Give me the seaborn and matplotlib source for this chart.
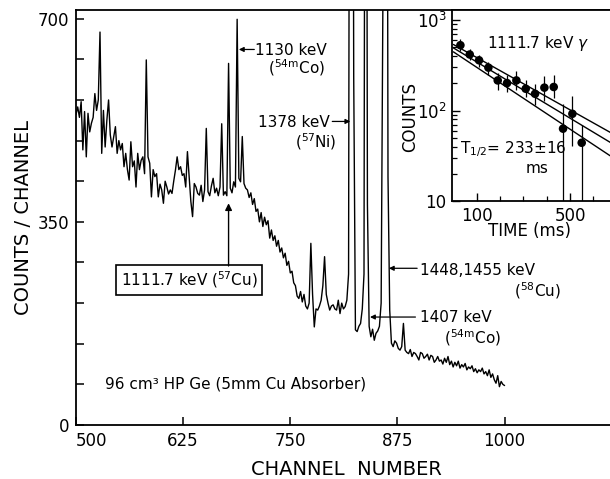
import numpy as np
import pandas as pd
import matplotlib
matplotlib.use("Agg")
import matplotlib.pyplot as plt
import seaborn as sns
from matplotlib.ticker import FixedLocator, NullFormatter

# ---------------- data ----------------
channels = list(range(500, 1002, 2))
counts = [
    535, 548, 530, 557, 474, 540, 462, 537, 505, 520,   # 500-518
    530, 571, 542, 560, 677, 468, 542, 479, 525, 560,   # 520-538
    500, 479, 497, 514, 468, 490, 474, 485, 445, 468,   # 540-558
    440, 422, 488, 445, 455, 410, 468, 440, 456, 462,   # 560-578
    433, 629, 462, 451, 393, 440, 428, 433, 393, 415,   # 580-598
    405, 382, 420, 410, 398, 405, 399, 420, 439, 462,   # 600-618
    440, 445, 430, 433, 410, 471, 428, 385, 359, 416,   # 620-638
    410, 399, 396, 413, 385, 405, 511, 402, 395, 412,   # 640-658
    425, 400, 408, 395, 410, 519, 396, 402, 395, 623,   # 660-678
    408, 400, 419, 410, 699, 425, 419, 497, 416, 408,   # 680-698
    405, 392, 400, 380, 390, 368, 372, 350, 366, 342,   # 700-718
    358, 345, 352, 322, 336, 318, 326, 308, 318, 298,   # 720-738
    305, 288, 296, 275, 282, 262, 265, 245, 240, 222,   # 740-758
    218, 230, 212, 225, 205, 200, 210, 313, 225, 169,   # 760-778
    200, 198, 205, 215, 240, 290, 225, 210, 198, 205,   # 780-798
    207, 200, 198, 215, 192, 210, 200, 204, 215, 260,   # 800-818
    2000, 2000, 600, 164, 161, 170, 175, 200, 260, 2000,  # 820-838
    380, 170, 152, 165, 146, 158, 162, 170, 210, 700,   # 840-858
    2000, 2000, 428, 198, 141, 135, 145, 141, 132, 129,  # 860-878
    135, 175, 129, 125, 123, 130, 118, 125, 123, 118,   # 880-898
    112, 125, 123, 115, 118, 122, 112, 120, 118, 108,   # 900-918
    112, 118, 110, 112, 105, 115, 108, 118, 104, 110,   # 920-938
    100, 108, 102, 110, 98, 104, 100, 106, 95, 100,     # 940-958
    97, 102, 92, 97, 90, 95, 92, 98, 88, 92,            # 960-978
    85, 95, 82, 88, 78, 72, 85, 66, 75, 70,             # 980-998
    68,                                                 # 1000
]

main_xticks = [500, 625, 750, 875, 1000]
main_yticks = [0, 350, 700]
main_yminor = [70, 140, 210, 280, 420, 490, 560, 630]

# inset: decay of the 1111.7 keV line
times = [30, 70, 110, 150, 190, 230, 270, 310, 350, 390, 430, 470, 510, 550]
decay_counts = [527, 416, 359, 298, 215, 201, 215, 174, 153, 179, 182, 63, 92, 44]
err_low = [74, 57, 56, 53, 48, 41, 48, 33, 39, 50, 46, 58, 51, 40]
err_high = [85, 60, 50, 46, 42, 44, 60, 41, 45, 61, 63, 56, 51, 26]
fit_times = [0, 672]
fit_upper = [537, 57.4]
fit_mid = [492, 44.5]
fit_lower = [445, 31.6]
inset_xticks = [100, 500]
inset_xminor = [200, 300, 400, 600]
inset_yticks = [10, 100, 1000]
inset_ylabels = ["10", "$10^2$", "$10^3$"]

# ---------------- style ----------------
sns.set_theme(style="ticks", rc={
    "axes.edgecolor": "black", "axes.labelcolor": "black",
    "xtick.color": "black", "ytick.color": "black", "text.color": "black",
})
plt.rcParams["font.family"] = ["DejaVu Sans"]
plt.rcParams["mathtext.fontset"] = "dejavusans"

fig = plt.figure(figsize=(6.10, 4.79), dpi=100)
W, H = 610.0, 479.0

# ---------------- main spectrum ----------------
ax = fig.add_axes([76 / W, 1 - 425 / H, 540 / W, 415 / H])
df = pd.DataFrame({"channel": channels, "counts": counts})
sns.lineplot(data=df, x="channel", y="counts", ax=ax, color="black",
             lw=1.0, estimator=None, sort=False)
ax.set_xlim(500, 1130)
ax.set_ylim(0, 715)
ax.set_xticks(main_xticks)
ax.set_xticklabels([str(v) for v in main_xticks])
ax.set_yticks(main_yticks)
ax.set_yticklabels([str(v) for v in main_yticks])
ax.yaxis.set_minor_locator(FixedLocator(main_yminor))
ax.yaxis.set_minor_formatter(NullFormatter())
ax.tick_params(which="both", direction="in", length=6, width=1.1,
               labelsize=12, pad=5, top=False, right=False)
ax.get_xticklabels()[0].set_horizontalalignment("left")
for s in ax.spines.values():
    s.set_linewidth(1.3)
    s.set_color("black")
ax.set_xlabel("CHANNEL  NUMBER", fontsize=14)
ax.set_ylabel("COUNTS / CHANNEL", fontsize=14)
ax.xaxis.set_label_coords(0.5, -0.085)
ax.yaxis.set_label_coords(-0.08, 0.5)

fs = 11
arrow_kw = dict(arrowstyle="-|>", color="black", lw=0.9,
                mutation_scale=7, shrinkA=0, shrinkB=0)

# 1130 keV
ax.text(709, 646, "1130 keV", fontsize=fs, ha="left", va="center")
ax.text(724, 615, "($^{54\\mathrm{m}}$Co)", fontsize=fs, ha="left", va="center")
ax.annotate("", xy=(690, 647), xytext=(708, 647), arrowprops=arrow_kw)
# 1378 keV
ax.text(796, 522, "1378 keV", fontsize=fs, ha="right", va="center")
ax.text(804, 489, "($^{57}$Ni)", fontsize=fs, ha="right", va="center")
ax.annotate("", xy=(820, 523), xytext=(799, 523), arrowprops=arrow_kw)
# 1448,1455 keV
ax.text(901, 267, "1448,1455 keV", fontsize=fs, ha="left", va="center")
ax.text(1011, 231, "($^{58}$Cu)", fontsize=fs, ha="left", va="center")
ax.annotate("", xy=(865, 270), xytext=(898, 270), arrowprops=arrow_kw)
# 1407 keV
ax.text(901, 186, "1407 keV", fontsize=fs, ha="left", va="center")
ax.text(929, 150, "($^{54\\mathrm{m}}$Co)", fontsize=fs, ha="left", va="center")
ax.annotate("", xy=(843, 186), xytext=(896, 186), arrowprops=arrow_kw)
# 1111.7 keV box
ax.text(632, 250, "1111.7 keV ($^{57}$Cu)", fontsize=fs, ha="center", va="center",
        bbox=dict(boxstyle="square,pad=0.3", fc="white", ec="black", lw=1.2))
ax.annotate("", xy=(678, 382), xytext=(678, 274),
            arrowprops=dict(arrowstyle="-|>", color="black", lw=1.0,
                            mutation_scale=10, shrinkA=0, shrinkB=0))
# detector
ax.text(534, 71, "96 cm³ HP Ge (5mm Cu Absorber)", fontsize=fs,
        ha="left", va="center")

# ---------------- inset ----------------
axi = fig.add_axes([452 / W, 1 - 201 / H, 164 / W, 191 / H])
axi.set_facecolor("white")
axi.set_yscale("log")
axi.set_xlim(-6, 697)
axi.set_ylim(10, 1291)
for fit in (fit_upper, fit_mid, fit_lower):
    sns.lineplot(x=fit_times, y=fit, ax=axi, color="black", lw=1.0,
                 estimator=None, sort=False)
axi.errorbar(times, decay_counts, yerr=[err_low, err_high], fmt="none",
             ecolor="black", elinewidth=0.9, capsize=0)
sns.scatterplot(x=times, y=decay_counts, ax=axi, color="black", s=38,
                edgecolor="none", zorder=5)
axi.xaxis.set_major_locator(FixedLocator(inset_xticks))
axi.set_xticklabels([str(v) for v in inset_xticks])
axi.xaxis.set_minor_locator(FixedLocator(inset_xminor))
axi.xaxis.set_minor_formatter(NullFormatter())
axi.yaxis.set_major_locator(FixedLocator(inset_yticks))
axi.set_yticklabels(inset_ylabels)
axi.yaxis.set_minor_locator(FixedLocator(
    [20, 30, 40, 50, 60, 70, 80, 90, 200, 300, 400, 500, 600, 700, 800, 900]))
axi.yaxis.set_minor_formatter(NullFormatter())
axi.tick_params(which="major", direction="in", length=6, width=1.0,
                labelsize=12, pad=4, top=False, right=False)
axi.tick_params(which="minor", direction="in", length=3.5, width=0.9,
                top=False, right=False)
for s in axi.spines.values():
    s.set_linewidth(1.3)
    s.set_color("black")
axi.set_xlabel("TIME (ms)", fontsize=12)
axi.set_ylabel("COUNTS", fontsize=12)
axi.xaxis.set_label_coords(0.47, -0.11)
axi.yaxis.set_label_coords(-0.20, 0.44)
axi.text(144, 555, "1111.7 keV $\\gamma$", fontsize=fs, ha="left", va="center")
axi.text(29, 38, "T$_{1/2}$= 233±16", fontsize=fs, ha="left", va="center")
axi.text(359, 23, "ms", fontsize=fs, ha="center", va="center")

fig.savefig("out.png", dpi=100)
